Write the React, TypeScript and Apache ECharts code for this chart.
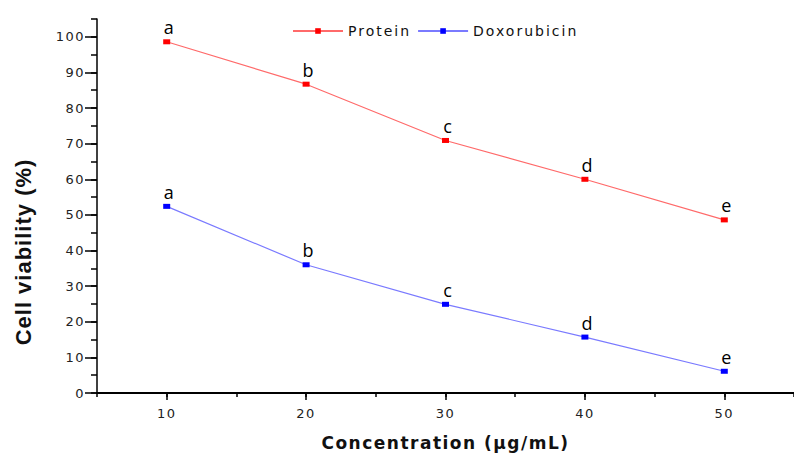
import React, { useEffect, useRef } from "react";
import * as echarts from "echarts";

const concentrations = [10, 20, 30, 40, 50];
const proteinValues = [98.6, 86.7, 70.9, 60.0, 48.6];
const doxorubicinValues = [52.4, 36.0, 24.9, 15.7, 6.1];
const groupLetters = ["a", "b", "c", "d", "e"];
const xTickLabels = [10, 20, 30, 40, 50];
const yTickLabels = [0, 10, 20, 30, 40, 50, 60, 70, 80, 90, 100];
const seriesNames = ["Protein", "Doxorubicin"];
const xTitle = "Concentration (µg/mL)";
const yTitle = "Cell viability (%)";

export default function App() {
  const ref = useRef<HTMLDivElement>(null);
  useEffect(() => {
    if (!ref.current) return;
    const el = ref.current;
    const chart = echarts.init(el, undefined, { renderer: "svg" });
    const tickFont = { fontFamily: "DejaVu Sans", fontSize: 13, color: "#222" };
    const letterLabel = {
      show: true,
      position: "top",
      distance: 3,
      offset: [2, 0],
      formatter: (p: any) => groupLetters[p.dataIndex],
      fontFamily: "Open Sans",
      fontSize: 18,
      color: "#000",
    };
    chart.setOption({
      animation: false,
      backgroundColor: "#fff",
      grid: { left: 97, right: -3, top: 19, bottom: 58 },
      legend: {
        data: seriesNames,
        left: 287,
        top: 19,
        itemWidth: 50,
        itemHeight: 7,
        itemGap: 20,
        textStyle: { fontFamily: "DejaVu Sans", fontSize: 14, color: "#111" },
      },
      xAxis: [
        {
          type: "value",
          min: 5,
          max: 55,
          interval: 5,
          axisLine: { show: true, lineStyle: { color: "#000", width: 2 } },
          axisTick: { show: true, length: 4, lineStyle: { color: "#000", width: 1.5 } },
          axisLabel: { show: false },
          splitLine: { show: false },
          name: xTitle,
          nameLocation: "middle",
          nameGap: 41,
          nameTextStyle: { fontFamily: "DejaVu Sans", fontWeight: "bold", fontSize: 17, color: "#111" },
        },
        {
          type: "value",
          min: 5,
          max: 55,
          interval: 5,
          position: "bottom",
          axisLine: { show: false },
          axisTick: { show: true, length: 7, customValues: xTickLabels, lineStyle: { color: "#000", width: 1.5 } },
          axisLabel: { show: true, customValues: xTickLabels, margin: 14, ...tickFont },
          splitLine: { show: false },
        },
      ],
      yAxis: [
        {
          type: "value",
          min: 0,
          max: 105,
          interval: 5,
          axisLine: { show: true, lineStyle: { color: "#000", width: 1.5 } },
          axisTick: { show: true, length: 6, lineStyle: { color: "#000", width: 1.5 } },
          axisLabel: { show: false },
          splitLine: { show: false },
        },
        {
          type: "value",
          min: 0,
          max: 105,
          interval: 5,
          position: "left",
          axisLine: { show: false },
          axisTick: { show: true, length: 12, customValues: yTickLabels, lineStyle: { color: "#000", width: 1.5 } },
          axisLabel: { show: true, customValues: yTickLabels, margin: 12, ...tickFont },
          splitLine: { show: false },
        },
      ],
      graphic: [
        {
          type: "text",
          x: 23,
          y: 252,
          rotation: Math.PI / 2,
          style: {
            text: yTitle,
            fontFamily: "Liberation Sans",
            fontWeight: "bold",
            fontSize: 22,
            fill: "#111",
            textAlign: "center",
            textVerticalAlign: "middle",
          },
        },
      ],
      series: [
        {
          name: seriesNames[0],
          type: "line",
          xAxisIndex: 0,
          yAxisIndex: 0,
          data: concentrations.map((c, i) => [c, proteinValues[i]]),
          symbol: "rect",
          symbolSize: [7, 5],
          itemStyle: { color: "#ff0000" },
          lineStyle: { color: "#ff6a6a", width: 1.2 },
          label: letterLabel,
        },
        {
          name: seriesNames[1],
          type: "line",
          xAxisIndex: 0,
          yAxisIndex: 0,
          data: concentrations.map((c, i) => [c, doxorubicinValues[i]]),
          symbol: "rect",
          symbolSize: [7, 5],
          itemStyle: { color: "#0000ff" },
          lineStyle: { color: "#7a7aff", width: 1.2 },
          label: letterLabel,
        },
      ],
    });
    const apply = () => {
      el.querySelectorAll("text").forEach((t) => {
        const s = (t.textContent || "").trim();
        let ls = "";
        if (/^\d+$/.test(s)) ls = "1.5px";
        else if (s === xTitle) ls = "1.5px";
        else if (s === yTitle) ls = "1px";
        else if (seriesNames.includes(s)) ls = "2px";
        if (ls) t.setAttribute("letter-spacing", ls);
      });
    };
    apply();
    chart.on("finished", apply);
    const raf = requestAnimationFrame(apply);
    return () => {
      cancelAnimationFrame(raf);
      chart.dispose();
    };
  }, []);
  return (
    <div
      ref={ref}
      style={{ position: "absolute", left: 0, top: 0, width: 794, height: 456, background: "#fff" }}
    />
  );
}
